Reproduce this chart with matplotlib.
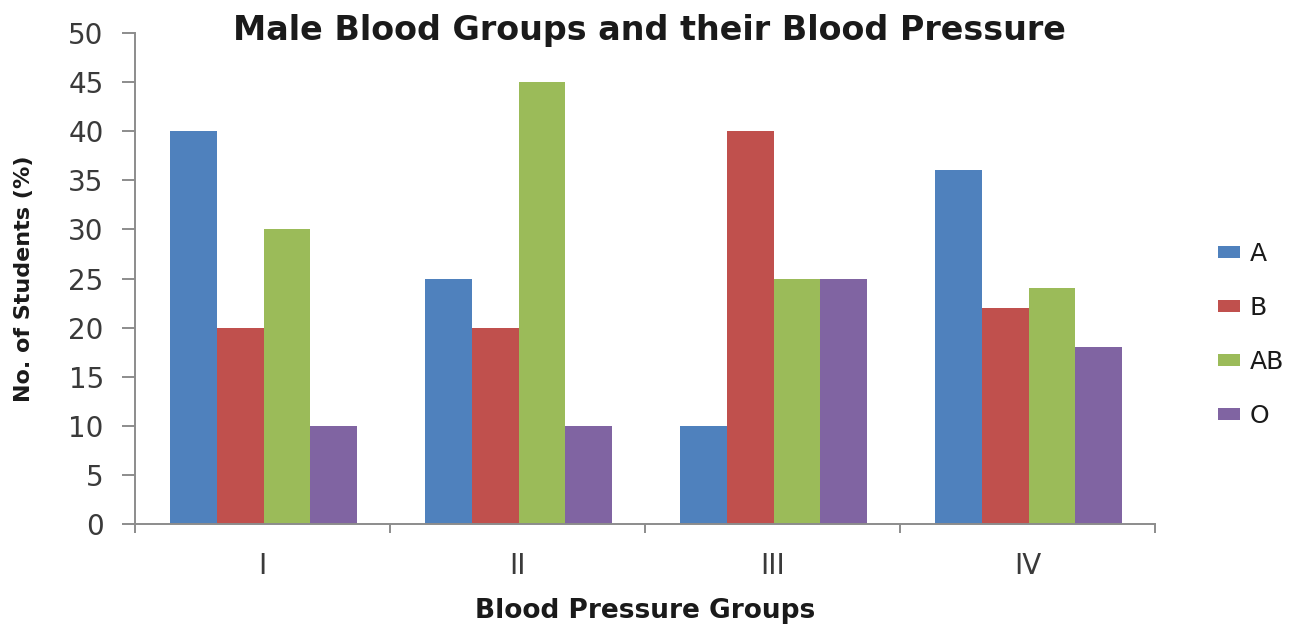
import matplotlib
matplotlib.use("Agg")
import matplotlib.pyplot as plt
import numpy as np

categories = ["I", "II", "III", "IV"]
series_names = ["A", "B", "AB", "O"]
values_A = [40, 25, 10, 36]
values_B = [20, 20, 40, 22]
values_AB = [30, 45, 25, 24]
values_O = [10, 10, 25, 18]
colors = ["#4F81BD", "#C0504D", "#9BBB59", "#8064A2"]

plt.rcParams["font.family"] = ["DejaVu Sans"]

W, H = 1294, 626
fig = plt.figure(figsize=(W / 100, H / 100), dpi=100)
ax = fig.add_axes([135 / W, 1 - 524 / H, 1020 / W, 491 / H])

x = np.arange(len(categories))
width = 0.184
all_values = [values_A, values_B, values_AB, values_O]
for i, (name, vals, col) in enumerate(zip(series_names, all_values, colors)):
    ax.bar(x + (i - 1.5) * width + 0.004, vals, width=width, color=col, label=name,
           edgecolor="none", zorder=2)

ax.set_xlim(-0.5, len(categories) - 0.5)
ax.set_ylim(0, 50)
ax.set_yticks(np.arange(0, 51, 5))

axis_col = "#8C8C8C"
text_col = "#3a3a3a"
for s in ["top", "right"]:
    ax.spines[s].set_visible(False)
for s in ["left", "bottom"]:
    ax.spines[s].set_color(axis_col)
    ax.spines[s].set_linewidth(1.4)

ax.tick_params(axis="y", direction="out", length=9.5, width=1.4, color=axis_col,
               labelsize=20, labelcolor=text_col, pad=13)
# category boundaries carry the tick marks; labels sit at the centres
ax.set_xticks(np.arange(-0.5, len(categories), 1.0))
ax.set_xticklabels([])
ax.tick_params(axis="x", which="major", direction="out", length=6.5, width=1.4, color=axis_col)
ax.set_xticks(x, minor=True)
ax.set_xticklabels(categories, minor=True)
ax.tick_params(axis="x", which="minor", length=0, labelsize=20, labelcolor=text_col, pad=20)

fig.text(649 / W, 1 - 40 / H, "Male Blood Groups and their Blood Pressure", fontsize=24,
         fontweight="bold", color="#1a1a1a", ha="center", va="baseline")
fig.text(24 / W, 1 - 279 / H, "No. of Students (%)", fontsize=16, fontweight="bold",
         color="#1a1a1a", rotation=90, ha="center", va="center")
fig.text(645 / W, 1 - 618 / H, "Blood Pressure Groups", fontsize=19, fontweight="bold",
         color="#1a1a1a", ha="center", va="baseline")

leg = ax.legend(loc="center left", bbox_to_anchor=(1218 / W, 1 - 335 / H),
                bbox_transform=fig.transFigure, frameon=False, borderpad=0,
                borderaxespad=0, fontsize=18, handlelength=0.88, handleheight=0.4,
                handletextpad=0.4, labelspacing=1.2, labelcolor="#1a1a1a")

fig.savefig("out.png", dpi=100, facecolor="white")
